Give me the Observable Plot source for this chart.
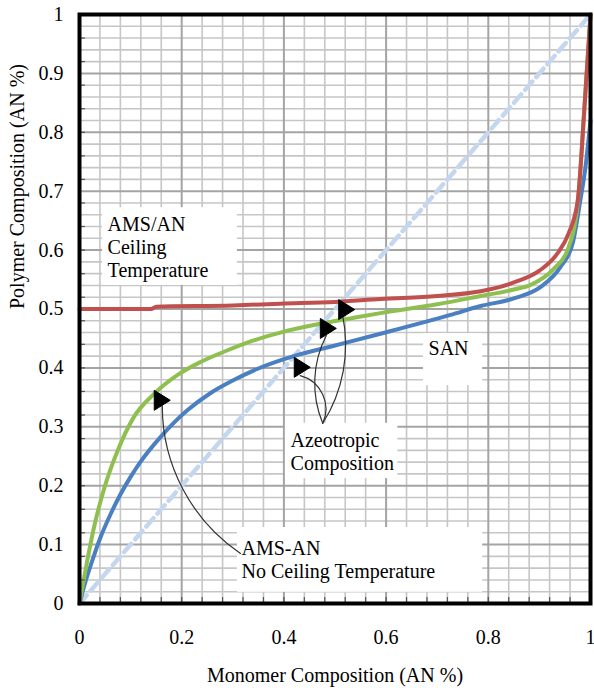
<!DOCTYPE html>
<html>
<head>
<meta charset="utf-8">
<script src="https://cdn.jsdelivr.net/npm/d3@7"></script>
<script src="https://cdn.jsdelivr.net/npm/@observablehq/plot@0.6"></script>
<style>
  html, body { margin: 0; padding: 0; background: #fff; }
  #chart svg { overflow: visible; display: block; }
  #chart svg, #chart svg text, #chart svg tspan, #chart svg g {
    font-family: "Liberation Serif", "Times New Roman", Times, "DejaVu Serif", serif !important;
  }
</style>
</head>
<body>
<div id="chart"></div>
<script>
// ---- Data ----
const redX   = [0, 0.14, 0.15, 0.3, 0.393, 0.5, 0.589, 0.7, 0.785, 0.85, 0.9, 0.935, 0.957, 0.975, 0.988, 1];
const redY   = [0.5, 0.5, 0.504, 0.506, 0.509, 0.512, 0.517, 0.522, 0.53, 0.545, 0.565, 0.594, 0.628, 0.684, 0.84, 1];

const greenX = [0, 0.005, 0.015, 0.027, 0.05, 0.074, 0.106, 0.145, 0.192, 0.237, 0.29, 0.335, 0.393, 0.466, 0.53, 0.589, 0.7, 0.785, 0.85, 0.883, 0.928, 0.955, 0.975, 0.988, 1];
const greenY = [0, 0.025, 0.072, 0.124, 0.2, 0.258, 0.316, 0.355, 0.388, 0.41, 0.43, 0.445, 0.46, 0.474, 0.484, 0.493, 0.508, 0.522, 0.533, 0.541, 0.568, 0.6, 0.68, 0.84, 1];

const blueX  = [0, 0.01, 0.027, 0.041, 0.061, 0.08, 0.1, 0.119, 0.158, 0.211, 0.256, 0.301, 0.35, 0.419, 0.5, 0.589, 0.726, 0.785, 0.85, 0.902, 0.941, 0.965, 0.98, 0.99, 1];
const blueY  = [0, 0.032, 0.078, 0.112, 0.152, 0.185, 0.215, 0.24, 0.282, 0.328, 0.357, 0.379, 0.399, 0.42, 0.438, 0.458, 0.49, 0.505, 0.518, 0.537, 0.571, 0.611, 0.684, 0.74, 0.82];

const diagX  = [0, 1];
const diagY  = [0, 1];

const xTickValues = [0, 0.2, 0.4, 0.6, 0.8, 1];
const xTickLabels = ["0", "0.2", "0.4", "0.6", "0.8", "1"];
const yTickValues = [0, 0.1, 0.2, 0.3, 0.4, 0.5, 0.6, 0.7, 0.8, 0.9, 1];
const yTickLabels = ["0", "0.1", "0.2", "0.3", "0.4", "0.5", "0.6", "0.7", "0.8", "0.9", "1"];

const xTitle = "Monomer Composition (AN %)";
const yTitle = "Polymer Composition (AN %)";

// annotation labels (position of first line, in data units)
const labelTexts = ["AMS/AN\nCeiling\nTemperature", "SAN", "Azeotropic\nComposition", "AMS-AN\nNo Ceiling Temperature"];
const labelX     = [0.055, 0.683, 0.413, 0.317];
const labelY     = [0.660, 0.450, 0.294, 0.110];
// white boxes behind labels
const boxX1 = [0.045, 0.673, 0.403, 0.309];
const boxX2 = [0.309, 0.789, 0.623, 0.789];
const boxY1 = [0.540, 0.370, 0.212, 0.019];
const boxY2 = [0.672, 0.458, 0.306, 0.129];

// leader lines (start at label, end at arrowhead)
const leadX1 = [0.315, 0.476, 0.476, 0.476];
const leadY1 = [0.085, 0.306, 0.306, 0.306];
const leadX2 = [0.162, 0.432, 0.483, 0.515];
const leadY2 = [0.336, 0.387, 0.455, 0.489];
const leadBend = [28, -50, 25, -22];
// arrowheads
const headX = [0.158, 0.432, 0.483, 0.519];
const headY = [0.345, 0.401, 0.467, 0.499];

// ---- build tables ----
const toPts = (xs, ys) => xs.map((x, i) => ({x, y: ys[i]}));
const red = toPts(redX, redY), green = toPts(greenX, greenY), blue = toPts(blueX, blueY), diag = toPts(diagX, diagY);
const labels = labelTexts.map((t, i) => ({t, x: labelX[i], y: labelY[i]}));
const boxes = boxX1.map((_, i) => ({x1: boxX1[i], x2: boxX2[i], y1: boxY1[i], y2: boxY2[i]}));
const leads = leadX1.map((_, i) => ({x1: leadX1[i], y1: leadY1[i], x2: leadX2[i], y2: leadY2[i], bend: leadBend[i]}));
const heads = headX.map((x, i) => ({x, y: headY[i]}));

const xMinor = d3.range(1, 25).filter(i => i % 5 !== 0).map(i => i * 0.04);
const xMajor = [0.2, 0.4, 0.6, 0.8];
const yMinor = d3.range(1, 50).filter(i => i % 5 !== 0).map(i => i * 0.02);
const yMajor = d3.range(1, 10).map(i => i / 10);
const xInner = d3.range(1, 25).map(i => i * 0.04);
const yInner = d3.range(1, 25).map(i => i * 0.04);

const W = 594, H = 688, mL = 79, mR = 4, mT = 14, mB = 85;
const pw = W - mL - mR, ph = H - mT - mB;

const rightTriangle = {
  draw(ctx, size) {
    const r = Math.sqrt(size / Math.PI);
    ctx.moveTo(-0.6 * r, -r);
    ctx.lineTo(r, 0);
    ctx.lineTo(-0.6 * r, r);
    ctx.closePath();
  }
};

const serif = "Liberation Serif, Times New Roman, Times, DejaVu Serif, serif";

const chart = Plot.plot({
  width: W, height: H,
  marginLeft: mL, marginRight: mR, marginTop: mT, marginBottom: mB,
  style: {fontSize: "20px", fontFamily: serif, background: "white", color: "black", overflow: "visible"},
  x: {domain: [0, 1], ticks: xTickValues, tickFormat: (d) => xTickLabels[xTickValues.indexOf(d)], tickSize: 0, tickPadding: 26, label: null},
  y: {domain: [0, 1], ticks: yTickValues, tickFormat: (d) => yTickLabels[yTickValues.indexOf(d)], tickSize: 0, tickPadding: 16, label: null},
  marks: [
    Plot.ruleX(xMinor, {stroke: "#c6c6c6", strokeWidth: 1.6}),
    Plot.ruleY(yMinor, {stroke: "#c6c6c6", strokeWidth: 1.6}),
    Plot.ruleX(xMajor, {stroke: "#a4a4a4", strokeWidth: 2}),
    Plot.ruleY(yMajor, {stroke: "#a4a4a4", strokeWidth: 2}),
    Plot.line(diag, {x: "x", y: "y", stroke: "#c5d6ef", strokeWidth: 4.5, strokeDasharray: "11,6"}),
    Plot.line(blue, {x: "x", y: "y", stroke: "#4a7fc1", strokeWidth: 4, curve: "monotone-x"}),
    Plot.line(green, {x: "x", y: "y", stroke: "#8fc04f", strokeWidth: 4, curve: "monotone-x"}),
    Plot.line(red, {x: "x", y: "y", stroke: "#c0504d", strokeWidth: 4, curve: "monotone-x"}),
    Plot.rect(boxes, {x1: "x1", x2: "x2", y1: "y1", y2: "y2", fill: "white"}),
    Plot.ruleX(xInner, {stroke: "#555", strokeWidth: 1.2, insetTop: ph - 6}),
    Plot.ruleY(yInner, {stroke: "#555", strokeWidth: 1.2, insetRight: pw - 6}),
    Plot.text(labels, {x: "x", y: "y", text: "t", textAnchor: "start", lineAnchor: "top", lineHeight: 1.15, fill: "black", fontSize: 20, fontFamily: serif}),
    ...leads.map(l => Plot.arrow([l], {x1: "x1", y1: "y1", x2: "x2", y2: "y2", bend: l.bend, headLength: 0, stroke: "#333", strokeWidth: 1.2})),
    Plot.dot(heads, {x: "x", y: "y", symbol: rightTriangle, r: 10, fill: "black", stroke: "black", strokeWidth: 1}),
    Plot.frame({stroke: "black", strokeWidth: 4}),
    Plot.text([xTitle], {frameAnchor: "bottom", lineAnchor: "bottom", dy: 78, text: d => d, fill: "black", fontSize: 20, fontFamily: serif}),
    Plot.text([yTitle], {frameAnchor: "left", dx: -62, rotate: -90, text: d => d, fill: "black", fontSize: 20, fontFamily: serif})
  ]
});
document.getElementById("chart").appendChild(chart);
</script>
</body>
</html>
